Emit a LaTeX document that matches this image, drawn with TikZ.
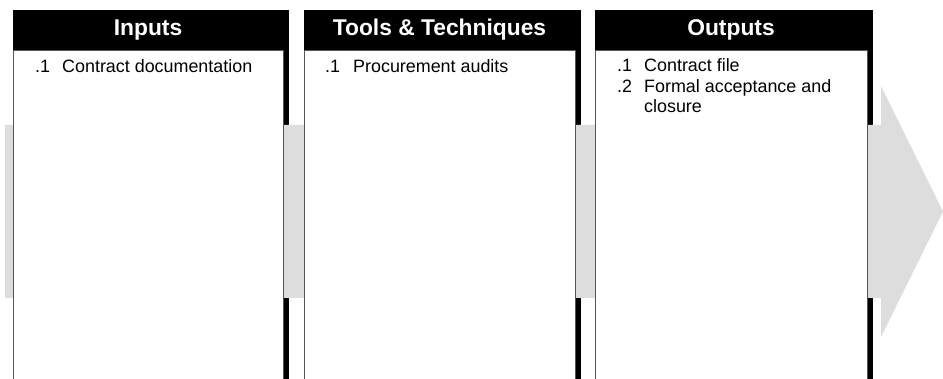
\documentclass[tikz,border=0pt]{standalone}
\usepackage{fontspec}
\setmainfont{Liberation Sans}
\definecolor{bandgray}{HTML}{DDDDDD}
\definecolor{edgegray}{HTML}{555555}
\tikzset{
  shadowbox/.style={fill=black, draw=none},
  panelbox/.style={fill=white, draw=edgegray, line width=0.9pt},
  headtext/.style={text=white, font=\bfseries\fontsize{22.8}{25}\selectfont, inner sep=0pt},
  numtext/.style={anchor=base west, inner sep=0pt, font=\fontsize{17.9}{20}\selectfont},
  itemtext/.style={anchor=base west, inner sep=0pt, font=\fontsize{17.9}{20.5}\selectfont, align=left}
}
\begin{document}
\begin{tikzpicture}[x=1pt,y=-1pt]
\useasboundingbox (0,0) rectangle (943,379);
% black shadows / header bars
\fill[shadowbox] (13,10) rectangle (289,380);
\fill[shadowbox] (304,10) rectangle (581,380);
\fill[shadowbox] (595,10) rectangle (873,380);
% grey process arrow
\fill[bandgray] (5,125) -- (881,125) -- (881,86) -- (943,211.5) -- (881,337) -- (881,298) -- (5,298) -- cycle;
% white panels
\draw[panelbox] (13,50) rectangle (283,381);
\draw[panelbox] (304,50) rectangle (575,381);
\draw[panelbox] (595,50) rectangle (867,381);
% headers
\node[headtext] (h1) at (148,30) {Inputs};
\node[headtext] (h2) at (439.5,30) {Tools \& Techniques};
\node[headtext] (h3) at (731,30) {Outputs};
% panel 1
\node[numtext] (n11) at (35,72.3) {.1};
\node[itemtext] (t11) at (62,72.3) {Contract documentation};
% panel 2
\node[numtext] (n21) at (325,72.3) {.1};
\node[itemtext] (t21) at (353,72.3) {Procurement audits};
% panel 3
\node[numtext] (n31) at (617,72) {.1};
\node[itemtext] (t31) at (644,72) {Contract file};
\node[numtext] (n32) at (617,92.7) {.2};
\node[itemtext] (t32) at (644,92.7) {Formal acceptance and};
\node[itemtext] (t33) at (644,112.9) {closure};
\end{tikzpicture}
\end{document}
